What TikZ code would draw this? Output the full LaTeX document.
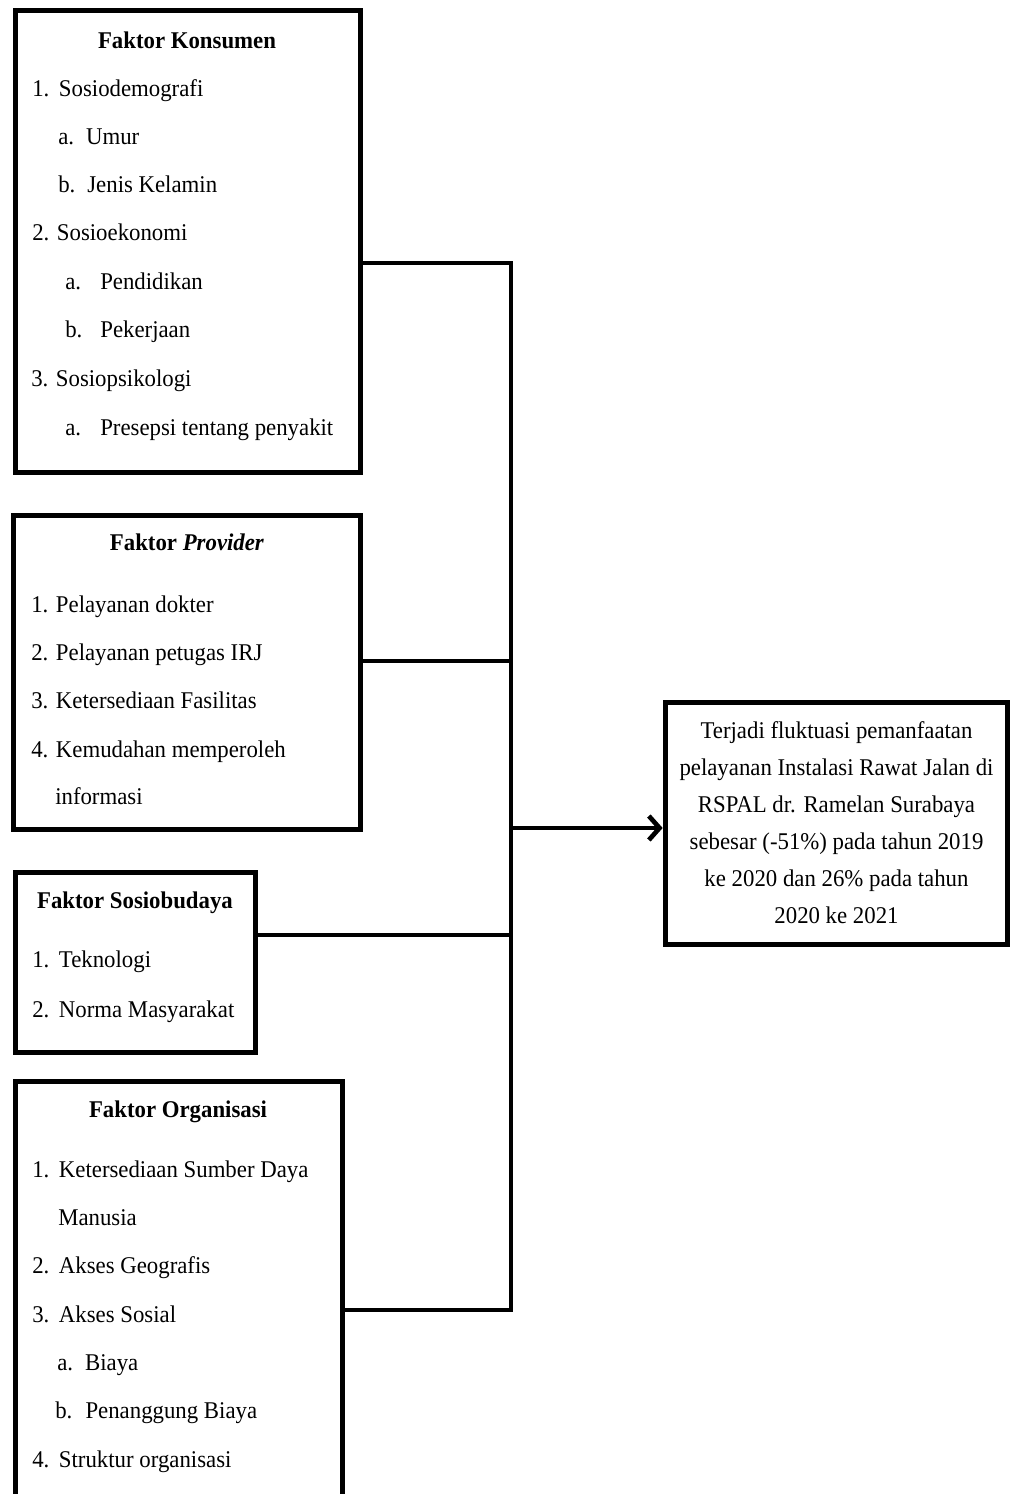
\documentclass[tikz,border=0pt]{standalone}
\usepackage{fontspec}
\setmainfont{Liberation Serif}[FakeStretch=0.95]
\usetikzlibrary{fit,arrows.meta}

\tikzset{
  kotak/.style={draw, line width=3.75pt, inner sep=0pt},
  judul/.style={anchor=base, inner sep=0pt, font=\fontsize{18}{22}\selectfont\bfseries},
  butir/.style={anchor=base west, inner sep=0pt, font=\fontsize{18}{22}\selectfont},
  garis/.style={line width=3.5pt}
}

\begin{document}
\begin{tikzpicture}[x=0.75pt, y=-0.75pt]
    \clip (0,0) rectangle (1011,1494);

    % faktor konsumen
    \node[kotak, fit={(15,11) (360,472)}] (kons) {};
    \node[judul] (kons-j) at (187,49) {Faktor Konsumen};
    \node[butir] (kons-1) at (32,97) {1.\hspace{0.4em}Sosiodemografi};
    \node[butir] (kons-2) at (58,145) {a.\hspace{0.5em}Umur};
    \node[butir] (kons-3) at (58,193) {b.\hspace{0.5em}Jenis Kelamin};
    \node[butir] (kons-4) at (32,241) {2. Sosioekonomi};
    \node[butir] (kons-5) at (65,290) {a.\hspace{0.8em}Pendidikan};
    \node[butir] (kons-6) at (65,338) {b.\hspace{0.75em}Pekerjaan};
    \node[butir] (kons-7) at (31,386) {3. Sosiopsikologi};
    \node[butir] (kons-8) at (65,435) {a.\hspace{0.8em}Presepsi tentang penyakit};

    % faktor provider
    \node[kotak, fit={(13.5,515) (360,829)}] (prov) {};
    \node[judul] (prov-j) at (187,550) {Faktor \textit{Provider}};
    \node[butir] (prov-1) at (31,612) {1. Pelayanan dokter};
    \node[butir] (prov-2) at (31,660) {2. Pelayanan petugas IRJ};
    \node[butir] (prov-3) at (31,708) {3. Ketersediaan Fasilitas};
    \node[butir] (prov-4) at (31,757) {4. Kemudahan memperoleh};
    \node[butir] (prov-5) at (55,804) {informasi};

    % faktor sosiobudaya
    \node[kotak, fit={(15,872) (255,1052)}] (budaya) {};
    \node[judul] (budaya-j) at (135,908) {Faktor Sosiobudaya};
    \node[butir] (budaya-1) at (32,967) {1.\hspace{0.4em}Teknologi};
    \node[butir] (budaya-2) at (32,1017) {2.\hspace{0.4em}Norma Masyarakat};

    % faktor organisasi
    \node[kotak, fit={(15,1081) (342,1530)}] (org) {};
    \node[judul] (org-j) at (178,1117) {Faktor Organisasi};
    \node[butir] (org-1) at (32,1177) {1.\hspace{0.4em}Ketersediaan Sumber Daya};
    \node[butir] (org-2) at (58,1225) {Manusia};
    \node[butir] (org-3) at (32,1273) {2.\hspace{0.4em}Akses Geografis};
    \node[butir] (org-4) at (32,1322) {3.\hspace{0.4em}Akses Sosial};
    \node[butir] (org-5) at (57,1370) {a.\hspace{0.5em}Biaya};
    \node[butir] (org-6) at (55,1418) {b.\hspace{0.55em}Penanggung Biaya};
    \node[butir] (org-7) at (32,1467) {4.\hspace{0.4em}Struktur organisasi};

    % hasil
    \node[kotak, minimum width=257pt, minimum height=181.5pt, align=center,
          font=\fontsize{18}{27.75}\selectfont] (hasil) at (836.5,823)
        {Terjadi fluktuasi pemanfaatan\\ pelayanan Instalasi Rawat Jalan di\\
         RSPAL dr. Ramelan Surabaya\\ sebesar (-51\%) pada tahun 2019\\
         ke 2020 dan 26\% pada tahun\\ 2020 ke 2021};

    \coordinate (j1) at (511,263);
    \coordinate (j2) at (511,661);
    \coordinate (j0) at (511,828);
    \coordinate (j3) at (511,935);
    \coordinate (j4) at (511,1310);

    \draw[garis] (j1 -| kons.east) -- (j1) -- (j4) -- (j4 -| org.east);
    \draw[garis] (j2 -| prov.east) -- (j2);
    \draw[garis] (j3 -| budaya.east) -- (j3);
    \draw[garis, -{Straight Barb[length=8pt, width=18pt]}] (j0) -- (j0 -| hasil.west);

\end{tikzpicture}
\end{document}
